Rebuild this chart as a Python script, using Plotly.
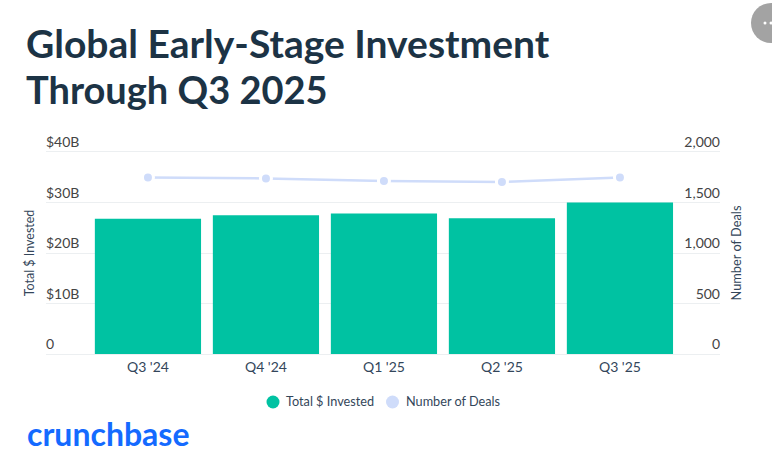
import plotly.graph_objects as go

quarters = ["Q3 '24", "Q4 '24", "Q1 '25", "Q2 '25", "Q3 '25"]
invested = [26.8, 27.5, 27.8, 26.9, 30.0]  # $B
deals = [1748, 1738, 1712, 1702, 1748]

invested_ticks = [0, 10, 20, 30, 40]
invested_labels = ["0", "$10B", "$20B", "$30B", "$40B"]
deals_ticks = [0, 500, 1000, 1500, 2000]
deals_labels = ["0", "500", "1,000", "1,500", "2,000"]

W, H = 772, 464
LEFT, RIGHT, TOP, BOTTOM = 46, 720, 152, 354
FONT = "Lato"
DARK = "#1c3345"
TEXT = "#33465a"
GRID = "#eceff1"
GREEN = "#00c2a2"
BLUE = "#cfdcfa"


# paper coordinates are relative to the plot area, so convert from page pixels
def px(x):
    return (x - LEFT) / (RIGHT - LEFT)


def py(y):
    return (BOTTOM - y) / (BOTTOM - TOP)


def dot(fig, cx, cy, r, color):
    fig.add_shape(type="circle", xref="paper", yref="paper",
                  x0=px(cx - r), x1=px(cx + r), y0=py(cy + r), y1=py(cy - r),
                  fillcolor=color, line_width=0, layer="above")


def label(fig, x, y, text, size, color, weight=400):
    fig.add_annotation(xref="paper", yref="paper", x=px(x), y=py(y), text=text,
                       showarrow=False, xanchor="left", yanchor="middle",
                       xshift=-1, font=dict(family=FONT, size=size, color=color, weight=weight))


fig = go.Figure()
fig.add_trace(go.Bar(x=quarters, y=invested, name="Total $ Invested", width=0.9,
                     marker=dict(color=GREEN, line_width=0), yaxis="y"))
fig.add_trace(go.Scatter(x=quarters, y=deals, name="Number of Deals", mode="lines+markers",
                         line=dict(color=BLUE, width=2.5),
                         marker=dict(color=BLUE, size=11, line=dict(color="white", width=3)),
                         yaxis="y2"))

fig.update_layout(
    width=W, height=H,
    margin=dict(l=LEFT, r=W - RIGHT, t=TOP, b=H - BOTTOM),
    paper_bgcolor="white", plot_bgcolor="white",
    showlegend=False,
    font=dict(family=FONT, size=14, color=TEXT),
    # gridlines at the range ends get dropped, the mirrored axis line stands in for them
    xaxis=dict(type="category", categoryorder="array", categoryarray=quarters,
               range=[-0.864, 4.848], showgrid=False, ticks="",
               showline=True, mirror=True, linecolor=GRID, linewidth=1,
               tickfont=dict(size=14, color=TEXT)),
    yaxis=dict(range=[0, 40], tickvals=invested_ticks, ticktext=invested_labels,
               ticklabelposition="inside top", ticklabeloverflow="allow", ticklabelstandoff=-3,
               showgrid=True, gridcolor=GRID, gridwidth=1, zeroline=False, showline=False,
               title=dict(text="Total $ Invested", standoff=8, font=dict(size=12.5, color=TEXT))),
    yaxis2=dict(range=[0, 2000], tickvals=deals_ticks, ticktext=deals_labels, overlaying="y",
                side="right", ticklabelposition="inside top", ticklabeloverflow="allow",
                ticklabelstandoff=-3, showgrid=False, zeroline=False, showline=False,
                title=dict(text="Number of Deals", standoff=13, font=dict(size=12.8, color=TEXT))),
)

label(fig, 25, 43, "Global Early-Stage Investment", 39, DARK, 700)
label(fig, 25, 89, "Through Q3 2025", 38, DARK, 700)

# legend, drawn by hand for the tight swatch spacing
dot(fig, 273, 402, 6.5, GREEN)
label(fig, 285, 400.5, "Total $ Invested", 12.7, TEXT)
dot(fig, 392.5, 402, 6.5, BLUE)
label(fig, 405, 400.5, "Number of Deals", 12.7, TEXT)

label(fig, 26, 433, "crunchbase", 32, "#146aff", 700)

# menu button in the corner
dot(fig, 771, 23, 20, "#a3a3a3")
dot(fig, 765, 23, 1.5, "white")
dot(fig, 771, 23, 1.5, "white")

fig.write_html("out.html", config={"displayModeBar": False},
               post_script="document.body.style.margin='0';")
